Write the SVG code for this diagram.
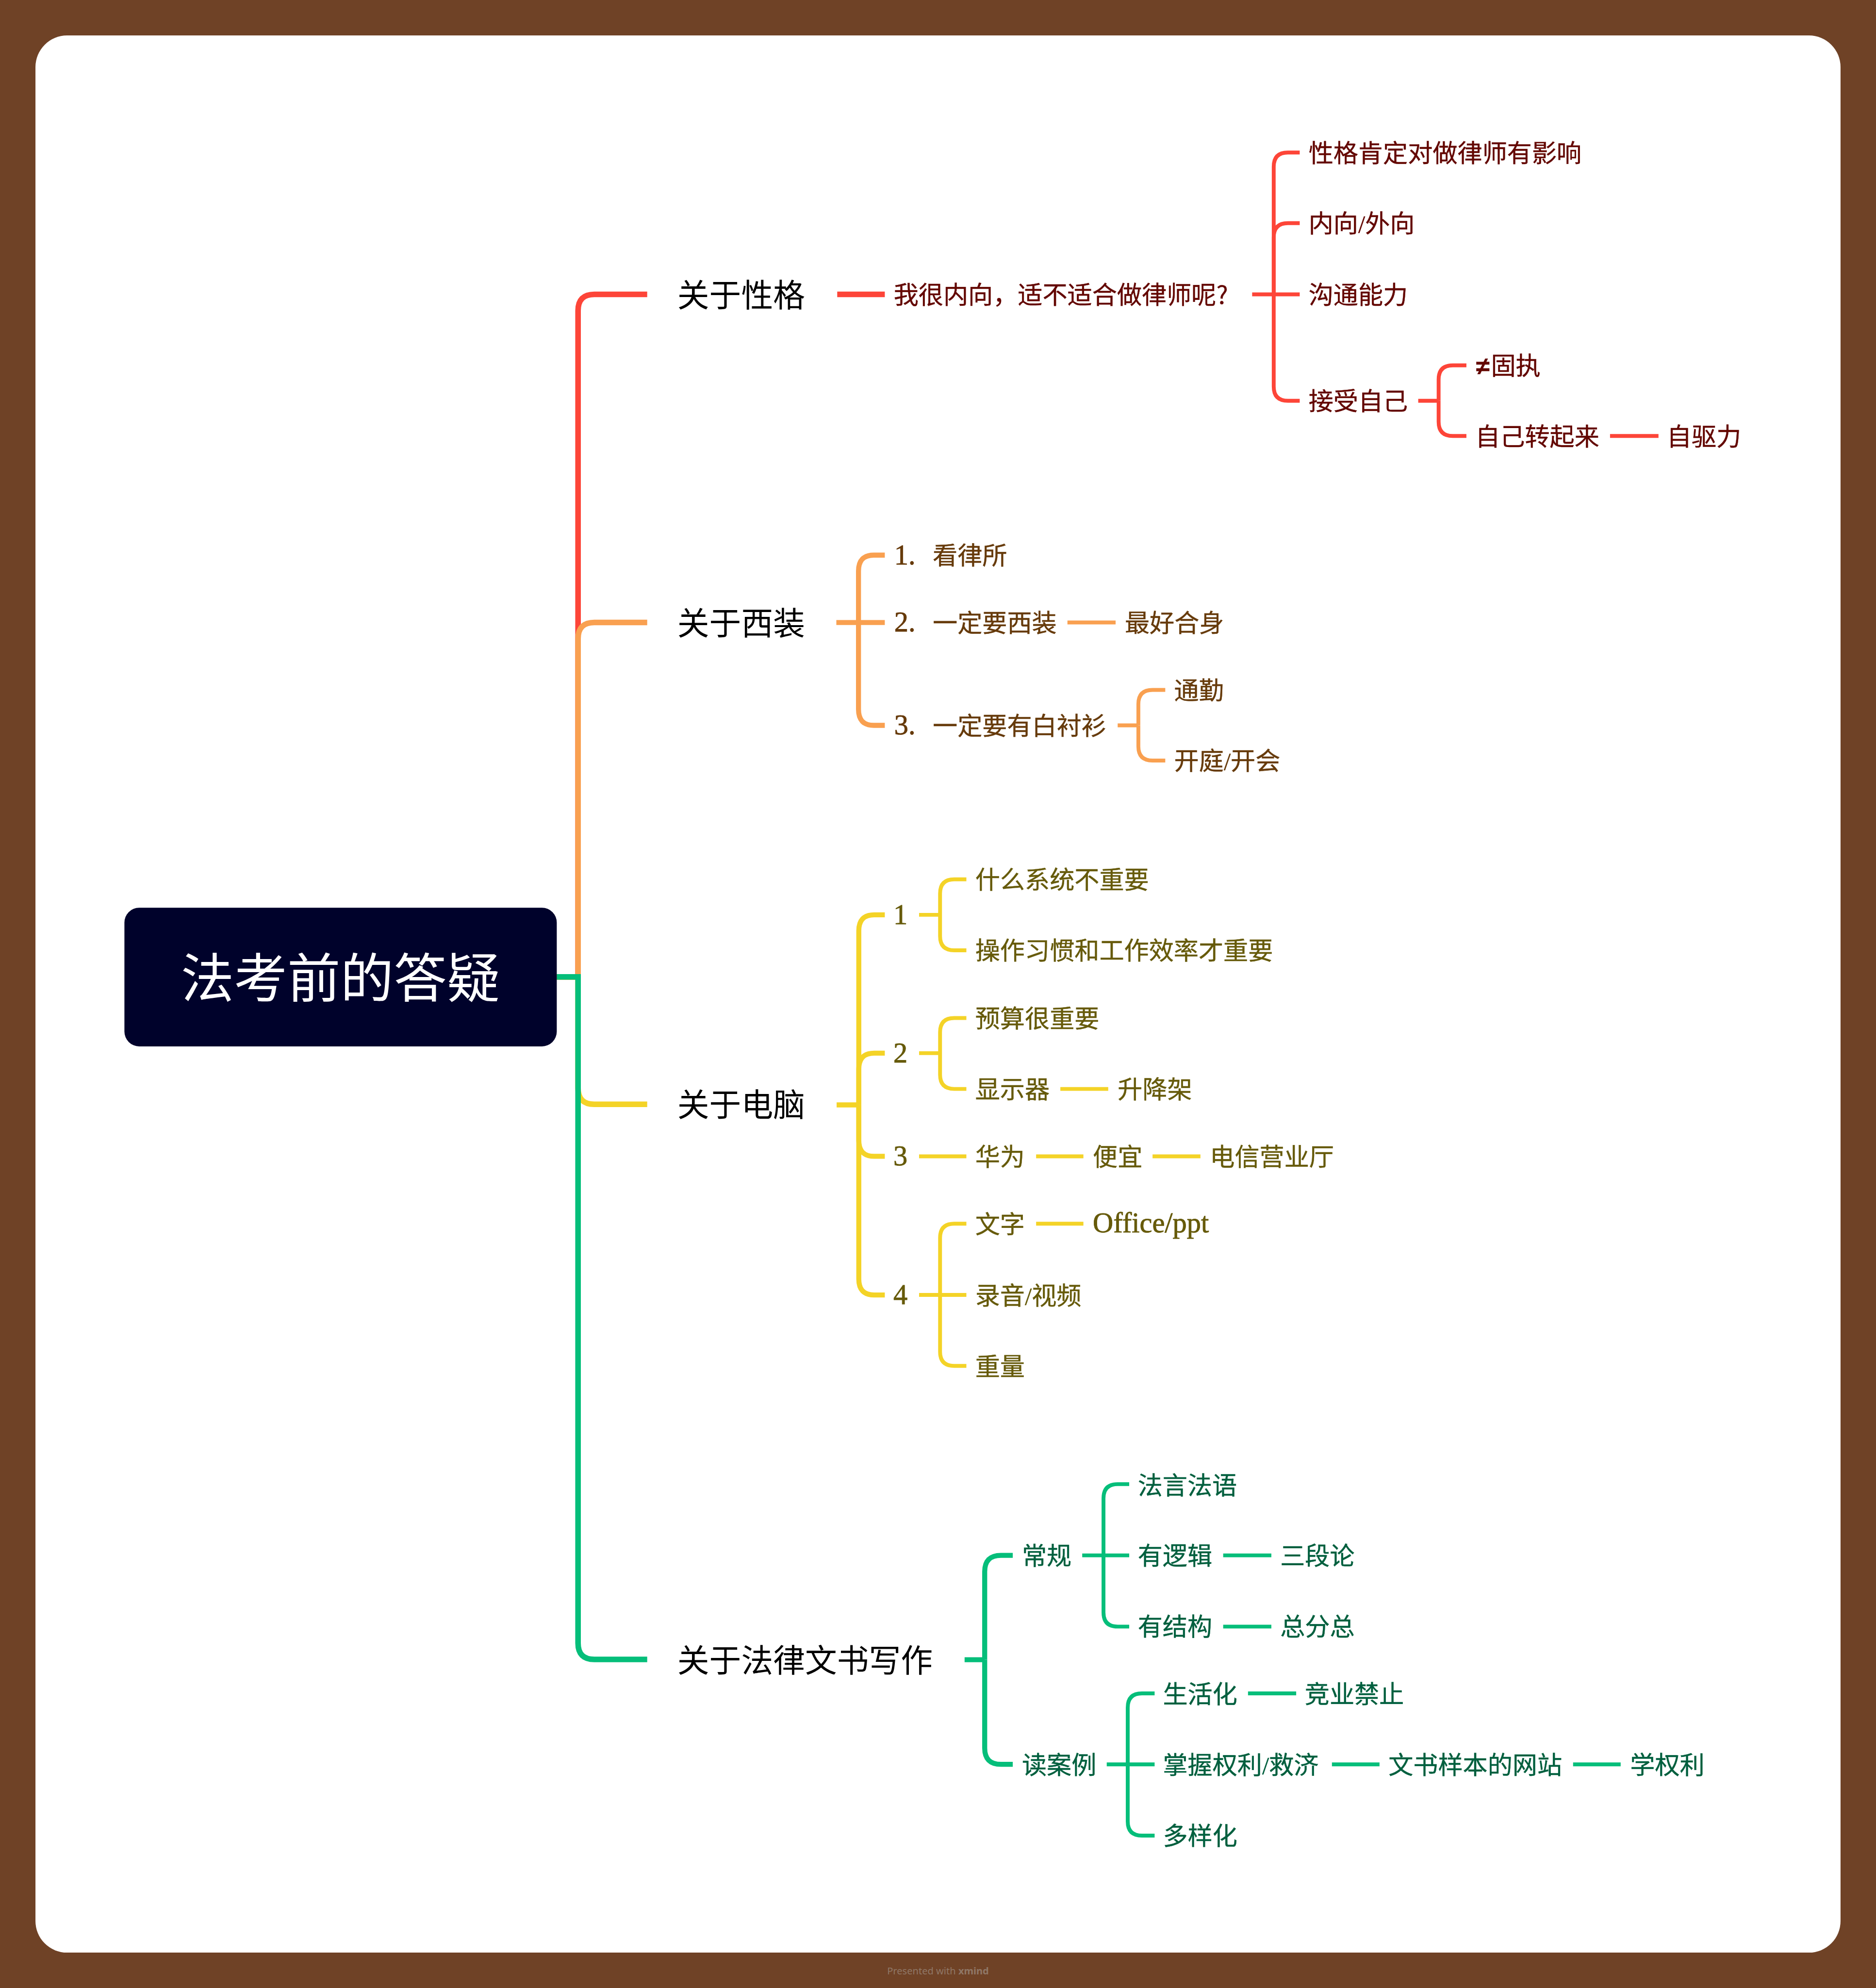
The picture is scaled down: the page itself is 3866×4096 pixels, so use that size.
<svg xmlns="http://www.w3.org/2000/svg" width="3866" height="4096" viewBox="0 0 3866 4096">
<style>
text{font-family:"Noto Sans CJK SC","Noto Sans",sans-serif;font-size:84px}
.l1{font-size:108px;fill:#000}
.root{font-size:180px;fill:#fff;text-anchor:middle}
.r{fill:#630600;stroke:#630600}.o{fill:#663a0a;stroke:#663a0a}.y{fill:#665a0a;stroke:#665a0a}.g{fill:#005f3e;stroke:#005f3e}
.r,.o,.y,.g{stroke-width:.7px}
.n{font-family:"Liberation Serif",serif;font-size:96px;stroke-width:1.4px}
.s{font-family:"Liberation Serif",serif}
.ne{font-family:"Liberation Sans",sans-serif;font-weight:700}
.d{text-anchor:middle}
#connectors path{fill:none}
.sr{stroke:#fd4538}.so{stroke:#f9a050}.sy{stroke:#f4d327}.sg{stroke:#05be7a}
.a{stroke-width:19px}.b{stroke-width:17px}.c{stroke-width:13px}
.wm{font-family:"Noto Sans",sans-serif;font-size:33px;fill:#8f7766;text-anchor:middle}
</style>
<g transform="scale(0.60901)">
<rect width="6348" height="6726" fill="#6f4226"/>
<rect x="120" y="120" width="6108" height="6486" rx="107" fill="#fff"/>
<g id="connectors">
<g class="a">
<path class="sr" d="M1884 3305H1956V1051Q1956 996 2011 996H2190"/>
<path class="so" d="M1884 3305H1956V2161Q1956 2106 2011 2106H2190"/>
<path class="sy" d="M1884 3305H1956V3681Q1956 3736 2011 3736H2190"/>
<path class="sg" d="M1884 3305H1956V5559Q1956 5614 2011 5614H2190"/>
<path class="sr" d="M2833 996H2994"/>
</g>
<g class="c sr">
<path d="M4237 996H4398"/>
<path d="M4310 996V564Q4310 516 4358 516H4398"/>
<path d="M4310 996V803Q4310 755 4358 755H4398"/>
<path d="M4310 996V1308Q4310 1356 4358 1356H4398"/>
<path d="M4799 1356H4868"/>
<path d="M4868 1356V1284Q4868 1236 4916 1236H4962"/>
<path d="M4868 1356V1427Q4868 1475 4916 1475H4962"/>
<path d="M5448 1475H5612"/>
</g>
<g class="b so">
<path d="M2830 2106H2994"/>
<path d="M2905 2106V1932Q2905 1878 2957 1878H2994"/>
<path d="M2905 2106V2400Q2905 2454 2957 2454H2994"/>
</g>
<g class="c so">
<path d="M3612 2106H3775"/>
<path d="M3782 2454H3852"/>
<path d="M3852 2454V2382Q3852 2334 3900 2334H3943"/>
<path d="M3852 2454V2525Q3852 2573 3900 2573H3943"/>
</g>
<g class="b sy">
<path d="M2831 3738H2906"/>
<path d="M2906 3738V3149Q2906 3095 2958 3095H2994"/>
<path d="M2906 3738V3617Q2906 3563 2958 3563H2994"/>
<path d="M2906 3738V3858Q2906 3912 2958 3912H2994"/>
<path d="M2906 3738V4327Q2906 4381 2958 4381H2994"/>
</g>
<g class="c sy">
<path d="M3110 3095H3181"/>
<path d="M3181 3095V3023Q3181 2975 3229 2975H3270"/>
<path d="M3181 3095V3167Q3181 3215 3229 3215H3270"/>
<path d="M3110 3563H3181"/>
<path d="M3181 3563V3492Q3181 3444 3229 3444H3270"/>
<path d="M3181 3563V3636Q3181 3684 3229 3684H3270"/>
<path d="M3588 3684H3750"/>
<path d="M3110 3912H3270"/>
<path d="M3506 3912H3666"/>
<path d="M3900 3912H4062"/>
<path d="M3110 4381H3270"/>
<path d="M3181 4381V4188Q3181 4140 3229 4140H3270"/>
<path d="M3181 4381V4573Q3181 4621 3229 4621H3270"/>
<path d="M3506 4140H3666"/>
</g>
<g class="b sg">
<path d="M3264 5615H3332"/>
<path d="M3332 5615V5317Q3332 5262 3387 5262H3427"/>
<path d="M3332 5615V5914Q3332 5969 3387 5969H3427"/>
</g>
<g class="c sg">
<path d="M3662 5262H3821"/>
<path d="M3734 5262V5069Q3734 5021 3782 5021H3821"/>
<path d="M3734 5262V5455Q3734 5503 3782 5503H3821"/>
<path d="M4139 5262H4302"/>
<path d="M4139 5503H4302"/>
<path d="M3745 5969H3907"/>
<path d="M3816 5969V5777Q3816 5729 3864 5729H3907"/>
<path d="M3816 5969V6162Q3816 6210 3864 6210H3907"/>
<path d="M4223 5729H4386"/>
<path d="M4507 5969H4668"/>
<path d="M5323 5969H5484"/>
</g>
</g>
<g id="root"><rect x="421" y="3071" width="1463" height="469" rx="50" fill="#00022b"/><text class="root" x="1152" y="3374">法考前的答疑</text></g>
<g id="t1"><text class="l1" x="2292" y="1037">关于性格</text></g>
<g id="t2"><text class="l1" x="2292" y="2147">关于西装</text></g>
<g id="t3"><text class="l1" x="2292" y="3777">关于电脑</text></g>
<g id="t4"><text class="l1" x="2292" y="5656">关于法律文书写作</text></g>
<g id="r1"><text class="r" x="3024" y="1028">我很内向，适不适合做律师呢?</text></g>
<g id="r2"><text class="r" x="4428" y="548">性格肯定对做律师有影响</text></g>
<g id="r3"><text class="r" x="4428" y="787">内向<tspan class="s">/</tspan>外向</text></g>
<g id="r4"><text class="r" x="4428" y="1028">沟通能力</text></g>
<g id="r5"><text class="r" x="4428" y="1388">接受自己</text></g>
<g id="r6"><text class="r" x="4994" y="1268"><tspan class="ne">≠</tspan><tspan x="5045">固执</tspan></text></g>
<g id="r7"><text class="r" x="4992" y="1507">自己转起来</text></g>
<g id="r8"><text class="r" x="5640" y="1507">自驱力</text></g>
<g id="o1"><text class="o" y="1910"><tspan class="n" x="3026">1.</tspan><tspan x="3156" y="1910">看律所</tspan></text></g>
<g id="o2"><text class="o" y="2136"><tspan class="n" x="3026">2.</tspan><tspan x="3156" y="2138">一定要西装</tspan></text></g>
<g id="o3"><text class="o" x="3806" y="2138">最好合身</text></g>
<g id="o4"><text class="o" y="2484"><tspan class="n" x="3026">3.</tspan><tspan x="3156" y="2486">一定要有白衬衫</tspan></text></g>
<g id="o5"><text class="o" x="3973" y="2366">通勤</text></g>
<g id="o6"><text class="o" x="3973" y="2605">开庭<tspan class="s">/</tspan>开会</text></g>
<g id="y1"><text class="y n d" x="3047" y="3126">1</text></g>
<g id="y2"><text class="y" x="3300" y="3007">什么系统不重要</text></g>
<g id="y3"><text class="y" x="3300" y="3247">操作习惯和工作效率才重要</text></g>
<g id="y4"><text class="y n d" x="3047" y="3594">2</text></g>
<g id="y5"><text class="y" x="3300" y="3476">预算很重要</text></g>
<g id="y6"><text class="y" x="3300" y="3716">显示器</text></g>
<g id="y7"><text class="y" x="3782" y="3716">升降架</text></g>
<g id="y8"><text class="y n d" x="3047" y="3943">3</text></g>
<g id="y9"><text class="y" x="3300" y="3944">华为</text></g>
<g id="y10"><text class="y" x="3698" y="3944">便宜</text></g>
<g id="y11"><text class="y" x="4094" y="3944">电信营业厅</text></g>
<g id="y12"><text class="y n d" x="3047" y="4412">4</text></g>
<g id="y13"><text class="y" x="3300" y="4172">文字</text></g>
<g id="y14"><text class="y n" x="3698" y="4169">Office/ppt</text></g>
<g id="y15"><text class="y" x="3300" y="4413">录音<tspan class="s">/</tspan>视频</text></g>
<g id="y16"><text class="y" x="3300" y="4653">重量</text></g>
<g id="g1"><text class="g" x="3458" y="5294">常规</text></g>
<g id="g2"><text class="g" x="3850" y="5055">法言法语</text></g>
<g id="g3"><text class="g" x="3850" y="5294">有逻辑</text></g>
<g id="g4"><text class="g" x="4332" y="5294">三段论</text></g>
<g id="g5"><text class="g" x="3850" y="5533">有结构</text></g>
<g id="g6"><text class="g" x="4332" y="5533">总分总</text></g>
<g id="g7"><text class="g" x="3458" y="6001">读案例</text></g>
<g id="g8"><text class="g" x="3935" y="5761">生活化</text></g>
<g id="g9"><text class="g" x="4415" y="5761">竞业禁止</text></g>
<g id="g10"><text class="g" x="3935" y="6001">掌握权利<tspan class="s">/</tspan>救济</text></g>
<g id="g11"><text class="g" x="4698" y="6001">文书样本的网站</text></g>
<g id="g12"><text class="g" x="5516" y="6001">学权利</text></g>
<g id="g13"><text class="g" x="3935" y="6242">多样化</text></g>
<g id="wm"><text class="wm" x="3174" y="6679">Presented with <tspan font-weight="700">xmind</tspan></text></g>
</g>
</svg>
